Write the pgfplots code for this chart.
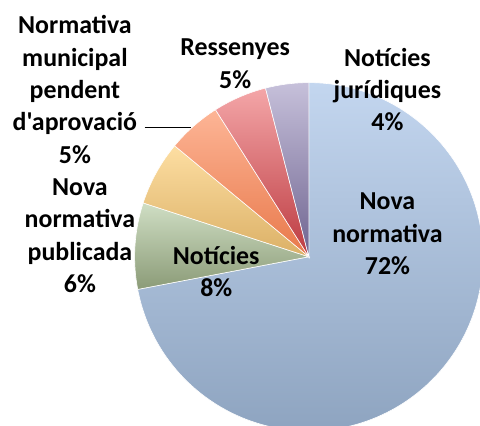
\documentclass[border=0pt]{standalone}
\usepackage{fontspec}
\setmainfont{Carlito}[Ligatures=TeXOff]
\usepackage{pgfplots}
\usepackage{pgfplotstable}
\pgfplotsset{compat=1.18}

% slice colours: top and bottom of each gradient
\definecolor{pie0T}{HTML}{C3D6EF}\definecolor{pie0B}{HTML}{8EA4C0}
\definecolor{pie1T}{HTML}{CFDEC4}\definecolor{pie1B}{HTML}{8B9B77}
\definecolor{pie2T}{HTML}{FDDEA2}\definecolor{pie2B}{HTML}{DBB066}
\definecolor{pie3T}{HTML}{FDB596}\definecolor{pie3B}{HTML}{E8784A}
\definecolor{pie4T}{HTML}{F4A6A8}\definecolor{pie4B}{HTML}{BC3A40}
\definecolor{pie5T}{HTML}{C6C0DA}\definecolor{pie5B}{HTML}{6F6490}

% shares in %, clockwise from 12 o'clock
\pgfplotstableread{
value
72
8
6
5
5
4
}\piedata

\newcommand\lab{\fontsize{26}{32.5}\selectfont\bfseries}
\newcommand\pa[1]{\csname pieA#1\endcsname}
\newcommand\pb[1]{\csname pieB#1\endcsname}

\begin{document}
\xdef\angcur{90}
\foreach \i in {0,...,5}{%
  \pgfplotstablegetelem{\i}{value}\of\piedata
  \pgfmathsetmacro\angnext{\angcur-3.6*\pgfplotsretval}%
  \expandafter\xdef\csname pieA\i\endcsname{\angcur}%
  \expandafter\xdef\csname pieB\i\endcsname{\angnext}%
  \xdef\angcur{\angnext}%
}%
\begin{tikzpicture}
\begin{axis}[
name=ax,
at={(0,0)}, anchor=south west,
x=1pt, y=1pt,
xmin=0, xmax=480,
ymin=0, ymax=428,
hide axis
]
\pgfplotsinvokeforeach{0,...,5}{
  \path[top color=pie#1T, bottom color=pie#1B, draw=white, line width=0.6pt]
    (axis cs:308,170) -- ++(\pa{#1}:175pt)
    arc[start angle=\pa{#1}, end angle=\pb{#1}, radius=175pt] -- cycle;
}
\draw[black, line width=1.4pt] (axis cs:143,300) -- (axis cs:190,300);

\node[font=\lab, align=center] at (axis cs:73,338) {Normativa\\municipal\\pendent\\d'aprovació\\5\%};
\node[font=\lab, align=center] at (axis cs:234,364) {Ressenyes\\5\%};
\node[font=\lab, align=center] at (axis cs:387,338) {Notícies\\jurídiques\\4\%};
\node[font=\lab, align=center] at (axis cs:387,193) {Nova\\normativa\\72\%};
\node[font=\lab, align=center] at (axis cs:215,155) {Notícies\\8\%};
\node[font=\lab, align=center] at (axis cs:78,191) {Nova\\normativa\\publicada\\6\%};
\end{axis}
\pgfresetboundingbox
\path (ax.south west) rectangle (ax.north east);
\end{tikzpicture}
\end{document}
